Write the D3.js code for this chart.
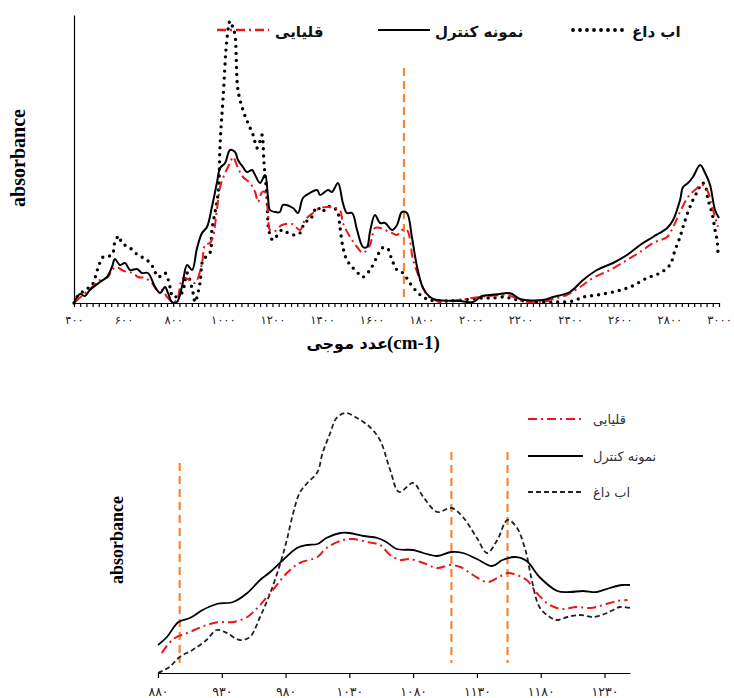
<!DOCTYPE html>
<html>
<head>
<meta charset="utf-8">
<script src="https://cdn.jsdelivr.net/npm/d3@7"></script>
<style>
  body { margin: 0; background: #fff; }
  svg { display: block; }
  .axis path, .axis line { stroke: #000; stroke-width: 1.2; }
  .axis text { font-family: "DejaVu Sans", sans-serif; fill: #222; }
</style>
</head>
<body>
<div id="chart"></div>
<script>
// ---- top spectrum (400 - 3000 cm-1) ----
var topCtrlWn = [400,424,444,464,505,533,553,565,585,606,626,654,674,698,727,747,767,779,795,815,835,856,876,896,916,936,956,976,989,1009,1029,1049,1061,1081,1097,1118,1130,1150,1170,1182,1190,1210,1230,1242,1283,1303,1323,1351,1380,1392,1424,1440,1464,1484,1500,1521,1541,1565,1581,1593,1613,1634,1654,1682,1702,1722,1742,1762,1783,1807,1835,1863,1956,2008,2045,2077,2117,2145,2166,2198,2290,2331,2399,2452,2508,2573,2629,2682,2734,2791,2815,2843,2855,2875,2895,2924,2944,2964,2984,3000];
var topCtrlAbs = [0,9,7,13,21,26,36,44,38,40,33,34,30,30,16,10,16,10,1,1,16,38,33,55,70,76,96,120,135,140,153,151,143,136,131,133,128,120,128,106,93,91,91,98,95,90,105,110,113,108,113,111,120,100,90,90,73,56,56,71,88,80,80,73,78,91,90,66,36,15,6,3,2,1,7,8,9,10,9,4,3,6,11,23,33,40,48,58,66,75,83,103,116,120,126,138,130,118,93,85];

var topAlkWn = [404,436,473,505,537,553,573,593,614,638,658,686,714,735,755,775,799,815,839,868,888,916,928,948,960,976,989,1009,1029,1041,1061,1081,1109,1130,1142,1158,1170,1182,1190,1210,1238,1279,1311,1331,1363,1392,1424,1452,1472,1484,1513,1541,1565,1593,1613,1634,1654,1682,1702,1722,1742,1767,1795,1815,1835,1863,1875,2037,2077,2145,2170,2206,2290,2331,2387,2440,2492,2561,2629,2682,2734,2791,2815,2843,2875,2903,2932,2952,2972,2996];
var topAlkAbs = [1,8,16,23,26,33,36,33,31,30,26,25,20,13,13,6,1,3,25,23,20,40,58,60,66,93,116,130,140,146,135,126,120,111,101,111,111,90,73,72,78,79,73,83,90,95,96,95,93,80,66,56,50,58,75,75,73,70,68,73,73,43,23,11,5,2,1,6,7,8,6,2,1,4,8,16,25,33,43,51,60,66,76,91,106,113,118,113,96,76];

var topHotWn = [400,412,444,473,497,517,553,565,581,593,626,658,694,718,739,767,787,799,835,848,856,880,888,908,920,948,956,981,989,1001,1017,1029,1041,1049,1061,1081,1101,1122,1138,1150,1158,1166,1178,1186,1202,1238,1263,1291,1311,1331,1351,1380,1400,1420,1444,1464,1472,1484,1500,1525,1553,1565,1593,1621,1642,1662,1682,1702,1726,1754,1783,1807,1835,1904,2049,2089,2137,2170,2218,2347,2411,2452,2508,2573,2641,2710,2762,2802,2823,2843,2855,2875,2895,2916,2932,2944,2956,2972,2984,2992,2996];
var topHotAbs = [0,6,13,18,35,46,48,61,67,60,55,48,43,36,26,30,16,6,10,23,30,10,1,20,43,50,73,110,160,205,265,282,275,268,213,193,180,168,155,162,168,140,106,72,63,73,70,68,70,81,83,96,91,96,96,90,76,56,43,35,28,26,33,46,55,55,43,33,30,20,11,6,3,2,5,5,6,4,2,1,2,6,8,11,16,25,30,38,53,66,76,91,103,113,120,118,103,90,73,63,50];

var topTicks = d3.range(400, 3001, 25);
var topMarkWn = [1730];

// ---- bottom zoom (880 - 1250 cm-1) ----
var botCtrlWn = [880,887,896,905,915,926,939,950,960,968,978,989,997,1005,1012,1023,1030,1041,1052,1059,1067,1080,1088,1099,1110,1119,1130,1142,1150,1160,1169,1179,1193,1203,1213,1224,1234,1244,1250];
var botCtrlAbs = [28,36,51,55,63,69,71,80,93,101,113,125,128,129,135,140,140,137,135,131,124,123,120,117,121,120,114,107,113,116,112,96,82,81,82,81,85,88,88];

var botAlkWn = [883,892,905,918,929,939,950,960,970,981,991,1005,1012,1025,1033,1044,1054,1062,1070,1077,1088,1099,1109,1117,1127,1138,1146,1154,1161,1169,1177,1187,1197,1208,1219,1229,1240,1248];
var botAlkAbs = [20,34,41,48,51,51,56,68,83,100,110,116,125,133,134,131,128,118,113,114,110,105,108,106,98,91,95,100,98,93,80,68,64,66,65,68,72,73];

var botHotWn = [880,889,897,907,918,926,934,944,952,960,968,976,981,986,991,997,1005,1009,1015,1020,1027,1036,1046,1054,1062,1069,1080,1088,1099,1110,1119,1130,1138,1146,1154,1161,1168,1173,1179,1187,1193,1201,1211,1221,1232,1242,1250];
var botHotAbs = [0,6,16,23,33,43,40,33,36,56,80,110,133,160,180,190,201,220,240,255,260,255,246,233,203,181,190,176,161,165,156,135,120,133,153,146,123,93,66,56,53,56,58,56,60,66,65];

var botTicks = d3.range(880, 1231, 50);
var botMarkWn = [897, 1110, 1154];
var botMarkTop = [210, 221, 221];

var legendNames = ["قلیایی", "نمونه کنترل", "اب داغ"];

var width = 734, height = 698;
var faDigits = "۰۱۲۳۴۵۶۷۸۹";
function fa(v) { return String(v).replace(/\d/g, function (d) { return faDigits[d]; }); }

function zip(xs, ys) { return xs.map(function (x, i) { return [x, ys[i]]; }); }

var svg = d3.select("#chart").append("svg")
    .attr("width", width)
    .attr("height", height);

// line styles shared by both panels
var alkStyle = { stroke: "#e8171b", width: 2, dash: "9,4,2,4" };
var ctrlStyle = { stroke: "#000", width: 2, dash: null };

// ================= TOP PANEL =================
var xTop = d3.scaleLinear().domain([400, 3000]).range([74, 719]);
var yTop = d3.scaleLinear().domain([0, 288]).range([303, 15]);
var lineTop = d3.line()
    .x(function (d) { return xTop(d[0]); })
    .y(function (d) { return yTop(d[1]); })
    .curve(d3.curveCatmullRom.alpha(0.5));

// y axis (line only)
svg.append("g").attr("class", "axis")
    .attr("transform", "translate(74,0)")
    .call(d3.axisLeft(yTop).tickValues([]).tickSizeOuter(0));

// x axis: minor ticks every 25, labels every 200
var topAxis = svg.append("g").attr("class", "axis")
    .attr("transform", "translate(0,303)")
    .call(d3.axisBottom(xTop)
        .tickValues(topTicks)
        .tickSize(4)
        .tickSizeOuter(0)
        .tickPadding(9)
        .tickFormat(function (d) { return d % 200 === 0 ? fa(d) : ""; }));
topAxis.selectAll("text")
    .style("font-size", "11.5px")
    .style("letter-spacing", "3px");

// orange marker
svg.append("line")
    .attr("x1", xTop(topMarkWn[0])).attr("x2", xTop(topMarkWn[0]))
    .attr("y1", yTop(235)).attr("y2", yTop(6))
    .attr("stroke", "#f0883a").attr("stroke-width", 2.2)
    .attr("stroke-dasharray", "8,5");

svg.append("path")
    .datum(zip(topHotWn, topHotAbs))
    .attr("d", lineTop)
    .attr("fill", "none")
    .attr("stroke", "#000")
    .attr("stroke-width", 3.4)
    .attr("stroke-linecap", "round")
    .attr("stroke-dasharray", "0,7");

svg.append("path")
    .datum(zip(topAlkWn, topAlkAbs))
    .attr("d", lineTop)
    .attr("fill", "none")
    .attr("stroke", alkStyle.stroke)
    .attr("stroke-width", alkStyle.width)
    .attr("stroke-dasharray", alkStyle.dash);

svg.append("path")
    .datum(zip(topCtrlWn, topCtrlAbs))
    .attr("d", lineTop)
    .attr("fill", "none")
    .attr("stroke", ctrlStyle.stroke)
    .attr("stroke-width", ctrlStyle.width);

// top legend
var topLegend = [
    { lx: 217, tx: 275, dash: alkStyle.dash, color: alkStyle.stroke, w: 2.4, cap: "butt" },
    { lx: 378, tx: 435, dash: null, color: "#000", w: 2, cap: "butt" },
    { lx: 573, tx: 632, dash: "0,7", color: "#000", w: 3.8, cap: "round" }
];
topLegend.forEach(function (l, i) {
    svg.append("line")
        .attr("x1", l.lx).attr("x2", l.lx + 52)
        .attr("y1", 30).attr("y2", 30)
        .attr("stroke", l.color).attr("stroke-width", l.w)
        .attr("stroke-linecap", l.cap)
        .attr("stroke-dasharray", l.dash);
    svg.append("text")
        .attr("x", l.tx).attr("y", 37)
        .attr("font-family", "DejaVu Sans, sans-serif")
        .attr("font-weight", "bold")
        .attr("font-size", 15)
        .attr("fill", "#111")
        .text(legendNames[i]);
});

// axis titles
svg.append("text")
    .attr("transform", "translate(25,158) rotate(-90)")
    .attr("text-anchor", "middle")
    .attr("font-family", "Liberation Serif, serif")
    .attr("font-weight", "bold")
    .attr("font-size", 20)
    .text("absorbance");
svg.append("text")
    .attr("x", 388).attr("y", 349)
    .attr("text-anchor", "end")
    .attr("font-family", "DejaVu Sans, sans-serif")
    .attr("font-weight", "bold")
    .attr("font-size", 16)
    .text("عدد موجی");
svg.append("text")
    .attr("x", 387).attr("y", 349)
    .attr("font-family", "Liberation Serif, serif")
    .attr("font-weight", "bold")
    .attr("font-size", 19)
    .text("(cm-1)");

// ================= BOTTOM PANEL =================
var xBot = d3.scaleLinear().domain([880, 1250]).range([158, 630]);
var yBot = d3.scaleLinear().domain([0, 260]).range([673, 413]);
var lineBot = d3.line()
    .x(function (d) { return xBot(d[0]); })
    .y(function (d) { return yBot(d[1]); })
    .curve(d3.curveCatmullRom.alpha(0.5));

var botAxis = svg.append("g").attr("class", "axis")
    .attr("transform", "translate(0,673)")
    .call(d3.axisBottom(xBot)
        .tickValues(botTicks)
        .tickSize(5)
        .tickSizeOuter(0)
        .tickPadding(9)
        .tickFormat(fa));
botAxis.selectAll("text")
    .style("font-size", "12.5px")
    .style("letter-spacing", "3.5px");

// orange markers
botMarkWn.forEach(function (w, i) {
    svg.append("line")
        .attr("x1", xBot(w)).attr("x2", xBot(w))
        .attr("y1", yBot(botMarkTop[i])).attr("y2", yBot(10))
        .attr("stroke", "#f0883a").attr("stroke-width", 2.2)
        .attr("stroke-dasharray", "8,5");
});

svg.append("path")
    .datum(zip(botHotWn, botHotAbs))
    .attr("d", lineBot)
    .attr("fill", "none")
    .attr("stroke", "#222")
    .attr("stroke-width", 1.8)
    .attr("stroke-dasharray", "5,3");

svg.append("path")
    .datum(zip(botAlkWn, botAlkAbs))
    .attr("d", lineBot)
    .attr("fill", "none")
    .attr("stroke", alkStyle.stroke)
    .attr("stroke-width", alkStyle.width)
    .attr("stroke-dasharray", alkStyle.dash);

svg.append("path")
    .datum(zip(botCtrlWn, botCtrlAbs))
    .attr("d", lineBot)
    .attr("fill", "none")
    .attr("stroke", "#000")
    .attr("stroke-width", 1.8);

// bottom legend
var botLegend = [
    { y: 419, dash: alkStyle.dash, color: alkStyle.stroke },
    { y: 456, dash: null, color: "#000" },
    { y: 492, dash: "5,3", color: "#222" }
];
botLegend.forEach(function (l, i) {
    svg.append("line")
        .attr("x1", 528).attr("x2", 583)
        .attr("y1", l.y).attr("y2", l.y)
        .attr("stroke", l.color).attr("stroke-width", 1.8)
        .attr("stroke-dasharray", l.dash);
    svg.append("text")
        .attr("x", 593).attr("y", l.y + 5)
        .attr("font-family", "DejaVu Sans, sans-serif")
        .attr("font-size", 13)
        .attr("fill", "#333")
        .text(legendNames[i]);
});

svg.append("text")
    .attr("transform", "translate(123,540) rotate(-90)")
    .attr("text-anchor", "middle")
    .attr("font-family", "Liberation Serif, serif")
    .attr("font-weight", "bold")
    .attr("font-size", 18)
    .text("absorbance");
</script>
</body>
</html>
